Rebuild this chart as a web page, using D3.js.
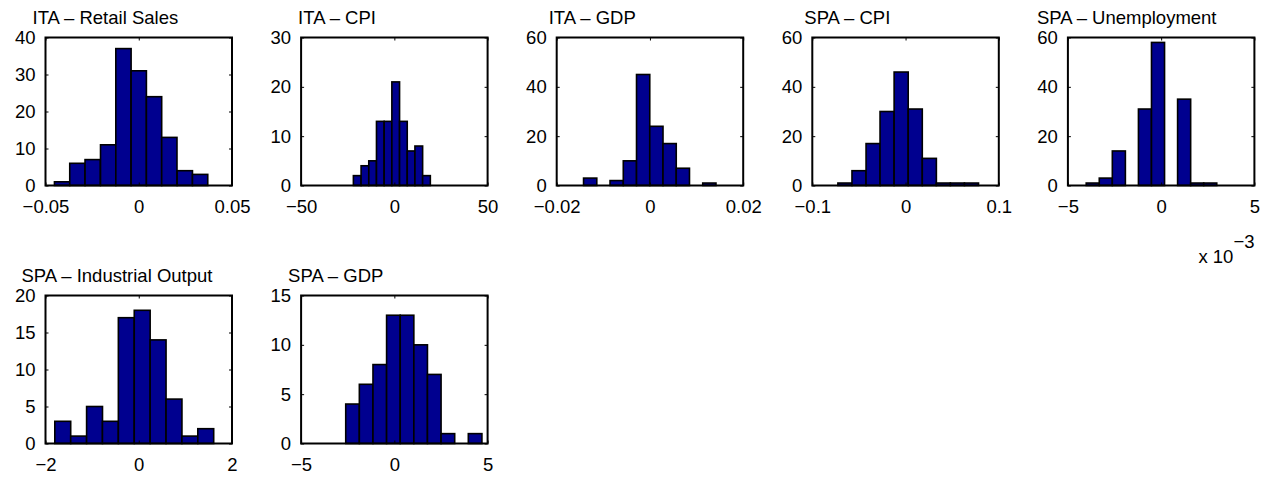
<!DOCTYPE html>
<html>
<head>
<meta charset="utf-8">
<script src="https://cdn.jsdelivr.net/npm/d3@7"></script>
<style>
body { margin: 0; background: #fff; }
text { font-family: "Liberation Sans", Arial, Helvetica, sans-serif; font-size: 18.5px; fill: #000; }
</style>
</head>
<body>
<svg id="fig" width="1273" height="482"></svg>
<script>
// titres des sous-graphes
const titles = ["ITA \u2013 Retail Sales", "ITA \u2013 CPI", "ITA \u2013 GDP", "SPA \u2013 CPI",
                "SPA \u2013 Unemployment", "SPA \u2013 Industrial Output", "SPA \u2013 GDP"];

const xDomains = [[-0.05, 0.05], [-50, 50], [-0.02, 0.02], [-0.1, 0.1], [-5, 5], [-2, 2], [-5, 5]];
const xTickValues = [[-0.05, 0, 0.05], [-50, 0, 50], [-0.02, 0, 0.02], [-0.1, 0, 0.1], [-5, 0, 5], [-2, 0, 2], [-5, 0, 5]];
const xTickLabels = [["\u22120.05", "0", "0.05"], ["\u221250", "0", "50"], ["\u22120.02", "0", "0.02"],
                     ["\u22120.1", "0", "0.1"], ["\u22125", "0", "5"], ["\u22122", "0", "2"], ["\u22125", "0", "5"]];
const yDomains = [[0, 40], [0, 30], [0, 60], [0, 60], [0, 60], [0, 20], [0, 15]];
const yTickValues = [[0, 10, 20, 30, 40], [0, 10, 20, 30], [0, 20, 40, 60], [0, 20, 40, 60],
                     [0, 20, 40, 60], [0, 5, 10, 15, 20], [0, 5, 10, 15]];

// centres des classes (SPA - Unemployment en unites de 10^-3)
const binCenters = [
    [-0.0411, -0.0329, -0.0247, -0.0164, -0.0082, 0.0000, 0.0082, 0.0164, 0.0247, 0.0329],
    [-19.90, -15.77, -11.65, -7.52, -3.40, 0.73, 4.85, 8.98, 13.10, 17.23],
    [-0.01282, -0.00998, -0.00714, -0.00430, -0.00146, 0.00138, 0.00422, 0.00706, 0.00990, 0.01274],
    [-0.0650, -0.0499, -0.0348, -0.0198, -0.0047, 0.0104, 0.0255, 0.0405, 0.0556, 0.0707],
    [-3.668, -2.968, -2.268, -1.568, -0.868, -0.168, 0.532, 1.232, 1.932, 2.632],
    [-1.630, -1.289, -0.948, -0.608, -0.267, 0.074, 0.415, 0.756, 1.096, 1.437],
    [-2.242, -1.512, -0.781, -0.051, 0.680, 1.410, 2.140, 2.871, 3.601, 4.331]
];
const binCounts = [
    [1, 6, 7, 11, 37, 31, 24, 13, 4, 3],
    [2, 4, 5, 13, 13, 21, 13, 7, 8, 2],
    [3, 0, 2, 10, 45, 24, 17, 7, 0, 1],
    [1, 6, 17, 30, 46, 31, 11, 1, 1, 1],
    [1, 3, 14, 0, 31, 58, 0, 35, 1, 1],
    [3, 1, 5, 3, 17, 18, 14, 6, 1, 2],
    [4, 6, 8, 13, 13, 10, 7, 1, 0, 1]
];

// mise en page
const AX_W = 186.5, AX_H = 148;
const COL_STEP = 255.6;
const rowTops = [37.5, 295.5];
const titleDx = [-13, -3, -8, -8, -31, -24, -13];
const BAR_COLOR = "#00008f";

const svg = d3.select("#fig");

titles.forEach(function (title, i) {
    let row = i < 5 ? 0 : 1;
    let col = i < 5 ? i : i - 5;
    let left = 45.5 + col * COL_STEP;
    let top = rowTops[row];

    let x = d3.scaleLinear().domain(xDomains[i]).range([0, AX_W]);
    let y = d3.scaleLinear().domain(yDomains[i]).range([AX_H, 0]);

    let g = svg.append("g").attr("transform", "translate(" + left + "," + top + ")");

    let bw = binCenters[i][1] - binCenters[i][0];
    g.selectAll("rect.bar")
        .data(binCenters[i].map((c, k) => ({c: c, n: binCounts[i][k]})))
        .enter().append("rect")
        .attr("class", "bar")
        .attr("x", d => x(d.c - bw / 2))
        .attr("width", d => x(d.c + bw / 2) - x(d.c - bw / 2))
        .attr("y", d => y(d.n))
        .attr("height", d => y(0) - y(d.n))
        .style("fill", BAR_COLOR)
        .style("stroke", "#000")
        .style("stroke-width", 1.6);

    // graduations vers l'interieur, comme matlab
    let bottomAxis = d3.axisBottom(x).tickValues(xTickValues[i]).tickSize(-3).tickPadding(14.4)
        .tickFormat((d, k) => xTickLabels[i][k]);
    let topAxis = d3.axisTop(x).tickValues(xTickValues[i]).tickSize(-3).tickFormat("");
    let leftAxis = d3.axisLeft(y).tickValues(yTickValues[i]).tickSize(-3).tickPadding(10)
        .tickFormat(d3.format("d"));
    let rightAxis = d3.axisRight(y).tickValues(yTickValues[i]).tickSize(-3).tickFormat("");

    g.append("g").attr("transform", "translate(0," + AX_H + ")").call(bottomAxis);
    g.append("g").call(topAxis);
    g.append("g").call(leftAxis);
    g.append("g").attr("transform", "translate(" + AX_W + ",0)").call(rightAxis);

    g.selectAll(".domain").remove();
    g.selectAll(".tick line").style("stroke", "#000").style("stroke-width", 1);
    g.selectAll(".tick text")
        .style("font-family", "\"Liberation Sans\", Arial, Helvetica, sans-serif")
        .style("font-size", "18.5px")
        .style("fill", "#000");

    g.append("rect")
        .attr("width", AX_W)
        .attr("height", AX_H)
        .style("fill", "none")
        .style("stroke", "#000")
        .style("stroke-width", 2);

    g.append("text")
        .attr("x", titleDx[i])
        .attr("y", -13.5)
        .text(title);

    // facteur d'echelle x 10^-3 pour le chomage espagnol
    if (i === 4) {
        let ex = g.append("text").attr("x", 130.5).attr("y", 263.3 - top);
        ex.append("tspan").text("x 10");
        ex.append("tspan").attr("x", 165.5).attr("y", 247.7 - top).text("\u22123");
    }
});
</script>
</body>
</html>
